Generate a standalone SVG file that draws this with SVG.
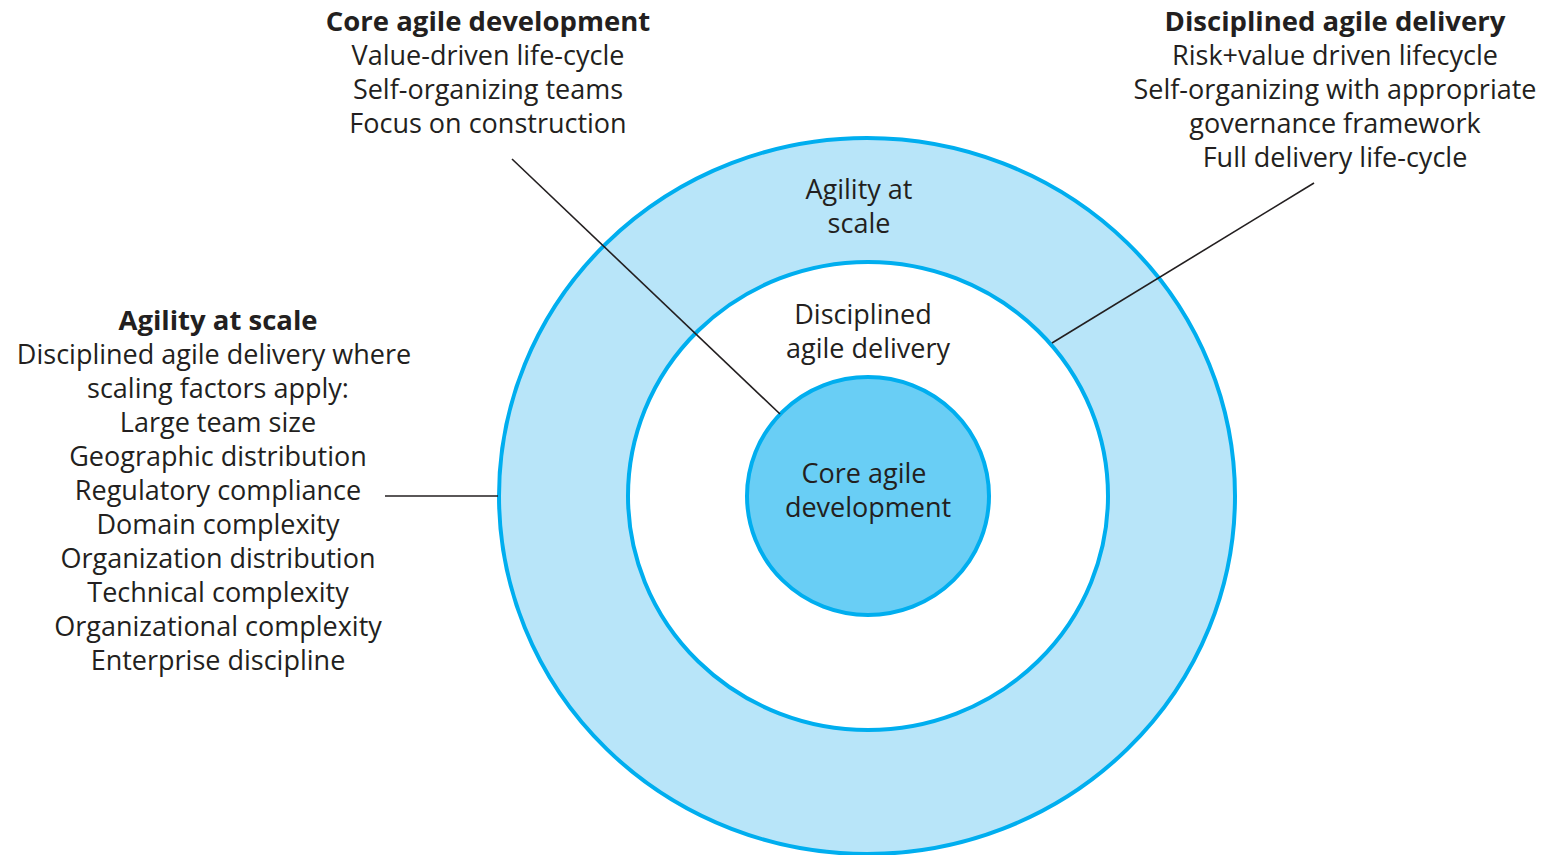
<svg xmlns="http://www.w3.org/2000/svg" width="1542" height="855" viewBox="0 0 1542 855">
<style>
text{font-family:"Open Sans","Noto Sans","Liberation Sans",sans-serif;font-size:27px;fill:#231F20;text-anchor:middle}
.b{font-weight:700;font-size:27.5px}
.ring{stroke:#00AEEF;stroke-width:4}
.conn{stroke:#231F20;stroke-width:1.6;fill:none}
</style>
<rect width="1542" height="855" fill="#fff"/>
<g id="agility-at-scale">
<ellipse class="ring" cx="867" cy="496" rx="368" ry="358" fill="#B8E5F9"/>
<text x="859" y="199">Agility at</text>
<text x="859" y="233">scale</text>
</g>
<g id="disciplined-agile-delivery">
<ellipse class="ring" cx="868" cy="496" rx="240" ry="234" fill="#fff"/>
<text x="863" y="324">Disciplined</text>
<text x="868" y="358">agile delivery</text>
</g>
<g id="core-agile-development">
<ellipse class="ring" cx="868" cy="496" rx="121" ry="119" fill="#69CEF5"/>
<text x="864" y="483">Core agile</text>
<text x="868" y="517">development</text>
</g>
<g id="connectors">
<line class="conn" x1="512" y1="159" x2="780" y2="414"/>
<line class="conn" x1="1314" y1="183" x2="1052" y2="343"/>
<line class="conn" x1="385" y1="496" x2="498" y2="496"/>
</g>
<g id="label-core">
<text class="b" x="488" y="31">Core agile development</text>
<text x="488" y="65">Value-driven life-cycle</text>
<text x="488" y="99">Self-organizing teams</text>
<text x="488" y="133">Focus on construction</text>
</g>
<g id="label-disciplined">
<text class="b" x="1335" y="31">Disciplined agile delivery</text>
<text x="1335" y="65">Risk+value driven lifecycle</text>
<text x="1335" y="99">Self-organizing with appropriate</text>
<text x="1335" y="133">governance framework</text>
<text x="1335" y="167">Full delivery life-cycle</text>
</g>
<g id="label-agility">
<text class="b" x="218" y="330">Agility at scale</text>
<text x="214" y="364">Disciplined agile delivery where</text>
<text x="218" y="398">scaling factors apply:</text>
<text x="218" y="432">Large team size</text>
<text x="218" y="466">Geographic distribution</text>
<text x="218" y="500">Regulatory compliance</text>
<text x="218" y="534">Domain complexity</text>
<text x="218" y="568">Organization distribution</text>
<text x="218" y="602">Technical complexity</text>
<text x="218" y="636">Organizational complexity</text>
<text x="218" y="670">Enterprise discipline</text>
</g>
</svg>
